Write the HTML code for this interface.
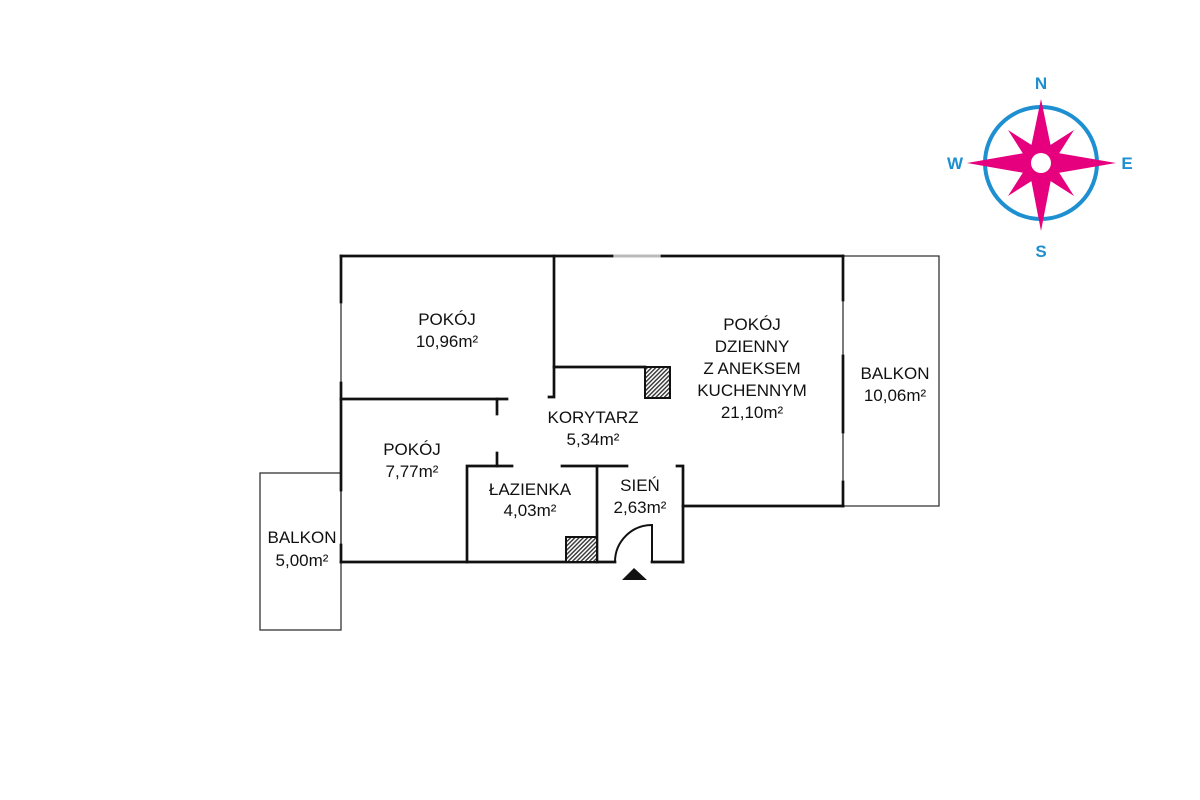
<!DOCTYPE html>
<html><head><meta charset="utf-8"><style>
html,body{margin:0;padding:0;background:#fff;}
svg{display:block;}
text{font-family:"Liberation Sans",sans-serif;font-size:17px;fill:#111;text-anchor:middle;}
</style></head><body>
<svg width="1200" height="800" viewBox="0 0 1200 800" xmlns="http://www.w3.org/2000/svg">
<defs>
<pattern id="h" width="3" height="3" patternUnits="userSpaceOnUse" patternTransform="rotate(45)">
<rect width="3" height="3" fill="#fff"/><rect width="1.4" height="3" fill="#333"/>
</pattern>
</defs>
<g fill="none" stroke="#333" stroke-width="1.3">
<rect x="260" y="473" width="81" height="157"/>
<polyline points="843,256 939,256 939,506 843,506"/>
<line x1="612" y1="256" x2="662" y2="256" stroke="#bbb" stroke-width="3"/>
<line x1="341" y1="302" x2="341" y2="383"/>
<line x1="341" y1="490" x2="341" y2="545"/>
<line x1="843" y1="300" x2="843" y2="356"/>
<line x1="843" y1="432" x2="843" y2="482"/>
</g>
<g fill="none" stroke="#111" stroke-width="2.7" stroke-linecap="square">
<line x1="341" y1="256" x2="612" y2="256"/>
<line x1="662" y1="256" x2="843" y2="256"/>
<line x1="341" y1="256" x2="341" y2="302"/>
<line x1="341" y1="383" x2="341" y2="490"/>
<line x1="341" y1="545" x2="341" y2="562"/>
<line x1="843" y1="256" x2="843" y2="300"/>
<line x1="843" y1="356" x2="843" y2="432"/>
<line x1="843" y1="482" x2="843" y2="506"/>
<line x1="341" y1="399" x2="507" y2="399"/>
<line x1="497" y1="399" x2="497" y2="414"/>
<line x1="497" y1="453" x2="497" y2="466"/>
<polyline points="554,256 554,397 549,397"/>
<line x1="554" y1="367" x2="645" y2="367"/>
<line x1="341" y1="562" x2="615" y2="562"/>
<line x1="652" y1="562" x2="683" y2="562"/>
<polyline points="467,562 467,466 512,466"/>
<line x1="562" y1="466" x2="627" y2="466"/>
<line x1="597" y1="466" x2="597" y2="562"/>
<polyline points="677,466 683,466 683,562"/>
<line x1="683" y1="506" x2="843" y2="506"/>
</g>
<rect x="645" y="367" width="25" height="31" fill="url(#h)" stroke="#111" stroke-width="2"/>
<rect x="566" y="537" width="31" height="25" fill="url(#h)" stroke="#111" stroke-width="2"/>
<path d="M615,562 A37,37 0 0 1 652,525 L652,562" fill="none" stroke="#111" stroke-width="2"/>
<polygon points="622,580 647,580 634,568" fill="#111"/>
<text x="447" y="325">POKÓJ</text><text x="447" y="347">10,96m²</text>
<text x="412" y="455">POKÓJ</text><text x="412" y="477">7,77m²</text>
<text x="593" y="423">KORYTARZ</text><text x="593" y="445">5,34m²</text>
<text x="530" y="495">ŁAZIENKA</text><text x="530" y="516">4,03m²</text>
<text x="640" y="491">SIEŃ</text><text x="640" y="513">2,63m²</text>
<text x="752" y="330">POKÓJ</text><text x="752" y="352">DZIENNY</text><text x="752" y="374">Z ANEKSEM</text><text x="752" y="396">KUCHENNYM</text><text x="752" y="418">21,10m²</text>
<text x="895" y="379">BALKON</text><text x="895" y="401">10,06m²</text>
<text x="302" y="543">BALKON</text><text x="302" y="566">5,00m²</text>
<circle cx="1041" cy="163" r="56" fill="none" stroke="#1e8fd0" stroke-width="4"/>
<g fill="#e6007e">
<polygon points="1008,130 1041,151 1074,130 1053,163 1074,196 1041,175 1008,196 1029,163"/>
<polygon points="1041,99 1052,152 1116,163 1052,174 1041,231 1030,174 967,163 1030,152"/>
</g>
<circle cx="1041" cy="163" r="10" fill="#fff"/>
<text x="1041" y="89" style="fill:#1e8fd0;font-weight:bold;font-size:17px">N</text>
<text x="1041" y="257" style="fill:#1e8fd0;font-weight:bold;font-size:17px">S</text>
<text x="955" y="169" style="fill:#1e8fd0;font-weight:bold;font-size:17px">W</text>
<text x="1127" y="169" style="fill:#1e8fd0;font-weight:bold;font-size:17px">E</text>
</svg>
</body></html>
